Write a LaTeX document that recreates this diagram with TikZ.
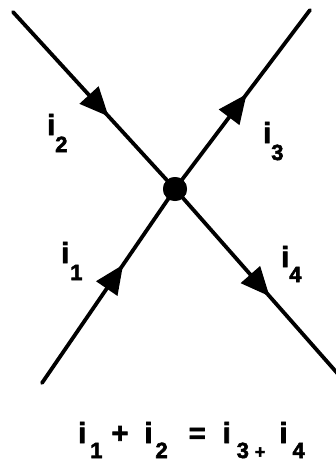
\documentclass[tikz,border=0pt]{standalone}
\usepackage{fontspec}
\setmainfont{Liberation Sans}
\newfontfamily\heavy{Liberation Sans Bold}[FakeBold=2.5]
\usetikzlibrary{arrows.meta,decorations.markings}
\newcommand\subf{\heavy\fontsize{22}{22}\selectfont}
\newcommand\sub[2]{\hspace{#1}\raisebox{-15pt}{\subf #2}}
\tikzset{
  wire/.style={line width=3.8pt, line cap=round},
  arr/.style={postaction={decorate, decoration={markings,
     mark=at position #1 with {\arrow{Triangle[length=29pt,width=25pt]}}}}},
  lbl/.style={font=\heavy\fontsize{29}{29}\selectfont, inner sep=0pt, anchor=base west},
  junction/.style={circle, fill=black, minimum size=24pt, inner sep=0pt}
}
\begin{document}
\begin{tikzpicture}[x=1pt,y=-1pt]
\useasboundingbox (0,0) rectangle (336,464);
\coordinate (tl) at (13,12);
\coordinate (tr) at (310,10);
\coordinate (bl) at (42,383);
\coordinate (br) at (338,374);
\node[junction] (c) at (175,189) {};
\draw[wire, arr=0.59] (tl) -- (c.center);
\draw[wire, arr=0.53] (c.center) -- (tr);
\draw[wire, arr=0.61] (bl) -- (c.center);
\draw[wire, arr=0.58] (c.center) -- (br);
\node[junction] at (c) {};
\node[lbl] (l2) at (47,135) {i\raisebox{-17pt}{\subf 2}};
\node[lbl] (l3) at (263,143) {i\raisebox{-17pt}{\subf 3}};
\node[lbl] (l1) at (61,263) {i\hspace{1pt}\raisebox{-17pt}{\subf 1}};
\node[lbl] (l4) at (281,267) {i\raisebox{-15pt}{\subf 4}};
\node[lbl] (eq) at (78,443) {i\sub{4pt}{1}\hspace{9pt}+\hspace{16pt}i\sub{3pt}{2}\hspace{21pt}=\hspace{17pt}i\sub{6pt}{3}\hspace{6pt}\raisebox{-15pt}{\heavy\fontsize{18}{18}\selectfont +}\hspace{14pt}i\sub{5pt}{4}};
\end{tikzpicture}
\end{document}
